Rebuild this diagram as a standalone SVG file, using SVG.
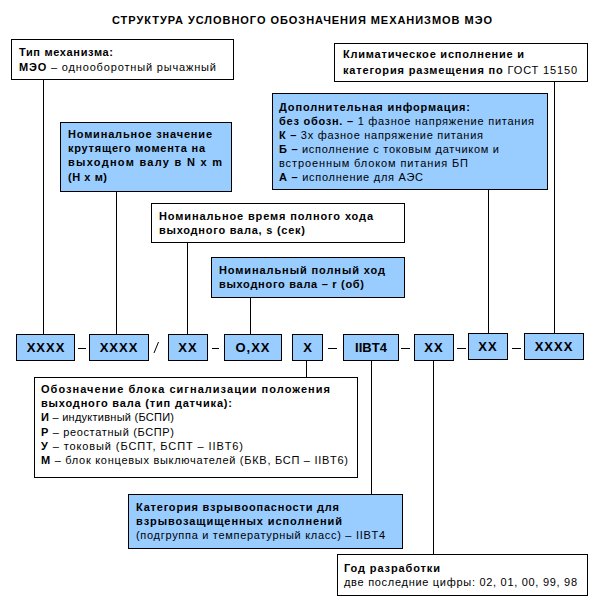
<svg xmlns="http://www.w3.org/2000/svg" width="600" height="600" viewBox="0 0 600 600">
<style>
text{font-family:"Liberation Sans",Arial,sans-serif;font-size:11px;fill:#000}
.b{font-weight:bold}
.code{font-weight:bold;font-size:13px;text-anchor:middle;letter-spacing:1px}
.w{fill:#fff;stroke:#000;stroke-width:1}
.bl{fill:#99ccff;stroke:#000;stroke-width:1}
.c line{stroke:#000;stroke-width:1}
</style>
<rect width="600" height="600" fill="#fff"/>
<text class="b" x="302" y="24" text-anchor="middle" textLength="380" lengthAdjust="spacing">СТРУКТУРА УСЛОВНОГО ОБОЗНАЧЕНИЯ МЕХАНИЗМОВ МЭО</text>
<g id="connectors" class="c">
<line x1="43.5" y1="79" x2="43.5" y2="334"/>
<line x1="116.5" y1="191" x2="116.5" y2="334"/>
<line x1="187.5" y1="242" x2="187.5" y2="334"/>
<line x1="250.5" y1="297" x2="250.5" y2="334"/>
<line x1="554.5" y1="81" x2="554.5" y2="333"/>
<line x1="488.5" y1="189" x2="488.5" y2="333"/>
<line x1="306.5" y1="360" x2="306.5" y2="378"/>
<line x1="371.5" y1="360" x2="371.5" y2="494"/>
<line x1="433.5" y1="360" x2="433.5" y2="554"/>
<line x1="78" y1="348.5" x2="86" y2="348.5"/>
<line x1="212" y1="348.5" x2="219" y2="348.5"/>
<line x1="328" y1="348.5" x2="337" y2="348.5"/>
<line x1="401" y1="348.5" x2="410" y2="348.5"/>
<line x1="457" y1="348.5" x2="466" y2="348.5"/>
<line x1="512" y1="348.5" x2="521" y2="348.5"/>
<line x1="154" y1="353" x2="158.5" y2="342"/>
</g>
<g id="type">
<rect class="w" x="11.5" y="39.5" width="222" height="40"/>
<text class="b" x="19" y="56" textLength="94" lengthAdjust="spacing">Тип механизма:</text>
<text x="19" y="71" textLength="197" lengthAdjust="spacing"><tspan class="b">МЭО</tspan> – однооборотный рычажный</text>
</g>
<g id="torque">
<rect class="bl" x="60.5" y="122.5" width="171" height="69"/>
<text class="b" x="68" y="138" textLength="144" lengthAdjust="spacing">Номинальное значение</text>
<text class="b" x="68" y="152" textLength="137" lengthAdjust="spacing">крутящего момента на</text>
<text class="b" x="68" y="166" textLength="154" lengthAdjust="spacing">выходном валу в N x m</text>
<text class="b" x="68" y="181" textLength="39" lengthAdjust="spacing">(Н x м)</text>
</g>
<g id="climate">
<rect class="w" x="334.5" y="43.5" width="253" height="38"/>
<text class="b" x="343" y="58" textLength="181" lengthAdjust="spacing">Климатическое исполнение и</text>
<text x="343" y="74" textLength="234" lengthAdjust="spacing"><tspan class="b">категория размещения по</tspan> ГОСТ 15150</text>
</g>
<g id="extra">
<rect class="bl" x="272.5" y="93.5" width="275" height="96"/>
<text class="b" x="279" y="111" textLength="191" lengthAdjust="spacing">Дополнительная информация:</text>
<text x="279" y="125" textLength="255" lengthAdjust="spacing"><tspan class="b">без обозн. –</tspan> 1 фазное напряжение питания</text>
<text x="279" y="139" textLength="204" lengthAdjust="spacing"><tspan class="b">К –</tspan> 3х фазное напряжение питания</text>
<text x="279" y="153" textLength="220" lengthAdjust="spacing"><tspan class="b">Б –</tspan> исполнение с токовым датчиком и</text>
<text x="279" y="167" textLength="189" lengthAdjust="spacing">встроенным блоком питания БП</text>
<text x="279" y="181" textLength="144" lengthAdjust="spacing"><tspan class="b">А –</tspan> исполнение для АЭС</text>
</g>
<g id="time">
<rect class="w" x="151.5" y="203.5" width="253" height="39"/>
<text class="b" x="159" y="220" textLength="214" lengthAdjust="spacing">Номинальное время полного хода</text>
<text class="b" x="159" y="234" textLength="146" lengthAdjust="spacing">выходного вала, s (сек)</text>
</g>
<g id="travel">
<rect class="bl" x="211.5" y="257.5" width="193" height="40"/>
<text class="b" x="219" y="274" textLength="166" lengthAdjust="spacing">Номинальный полный ход</text>
<text class="b" x="219" y="288" textLength="145" lengthAdjust="spacing">выходного вала – r (об)</text>
</g>
<g id="c1"><rect class="bl" x="16.5" y="334.5" width="58" height="26"/><text class="code" x="46" y="352">XXXX</text></g>
<g id="c2"><rect class="bl" x="89.5" y="334.5" width="59" height="26"/><text class="code" x="119" y="352">XXXX</text></g>
<g id="c3"><rect class="bl" x="168.5" y="334.5" width="39" height="26"/><text class="code" x="188" y="352">XX</text></g>
<g id="c4"><rect class="bl" x="224.5" y="334.5" width="57" height="26"/><text class="code" x="253" y="352">O,XX</text></g>
<g id="c5"><rect class="bl" x="292.5" y="334.5" width="30" height="26"/><text class="code" x="308" y="352">X</text></g>
<g id="c6"><rect class="bl" x="343.5" y="334.5" width="55" height="26"/><text class="code" x="371" y="352" style="letter-spacing:0">IIBT4</text></g>
<g id="c7"><rect class="bl" x="414.5" y="334.5" width="39" height="26"/><text class="code" x="434" y="352">XX</text></g>
<g id="c8"><rect class="bl" x="468.5" y="333.5" width="39" height="26"/><text class="code" x="488" y="351">XX</text></g>
<g id="c9"><rect class="bl" x="524.5" y="333.5" width="59" height="26"/><text class="code" x="554" y="351">XXXX</text></g>
<g id="signal">
<rect class="w" x="34.5" y="377.5" width="323" height="100"/>
<text class="b" x="41" y="393" textLength="289" lengthAdjust="spacing">Обозначение блока сигнализации положения</text>
<text class="b" x="41" y="407" textLength="191" lengthAdjust="spacing">выходного вала (тип датчика):</text>
<text x="41" y="421" textLength="133" lengthAdjust="spacing"><tspan class="b">И</tspan> – индуктивный (БСПИ)</text>
<text x="41" y="436" textLength="133" lengthAdjust="spacing"><tspan class="b">Р</tspan> – реостатный (БСПР)</text>
<text x="41" y="450" textLength="202" lengthAdjust="spacing"><tspan class="b">У</tspan> – токовый (БСПТ, БСПТ – IIBT6)</text>
<text x="41" y="464" textLength="307" lengthAdjust="spacing"><tspan class="b">М</tspan> – блок концевых выключателей (БКВ, БСП – IIBT6)</text>
</g>
<g id="category">
<rect class="bl" x="128.5" y="494.5" width="274" height="54"/>
<text class="b" x="136" y="511" textLength="203" lengthAdjust="spacing">Категория взрывоопасности для</text>
<text class="b" x="136" y="525" textLength="206" lengthAdjust="spacing">взрывозащищенных исполнений</text>
<text x="136" y="539" textLength="249" lengthAdjust="spacing">(подгруппа и температурный класс) – IIBT4</text>
</g>
<g id="year">
<rect class="w" x="337.5" y="554.5" width="250" height="41"/>
<text class="b" x="344" y="572" textLength="96" lengthAdjust="spacing">Год разработки</text>
<text x="344" y="586" textLength="233" lengthAdjust="spacing">две последние цифры: 02, 01, 00, 99, 98</text>
</g>
</svg>
